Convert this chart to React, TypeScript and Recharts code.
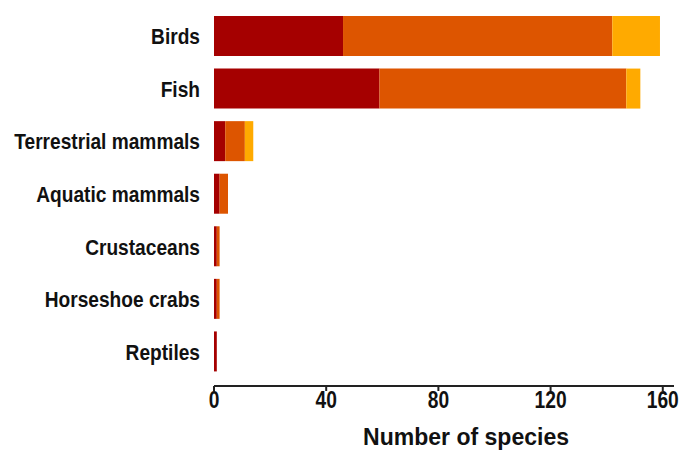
import { BarChart, Bar, XAxis, YAxis } from 'recharts';

const groups = [
  'Birds',
  'Fish',
  'Terrestrial mammals',
  'Aquatic mammals',
  'Crustaceans',
  'Horseshoe crabs',
  'Reptiles',
];
const darkRed = [46, 59, 4, 2, 1, 1, 1];
const orange = [96, 88, 7, 3, 1, 1, 0];
const yellow = [17, 5, 3, 0, 0, 0, 0];
const xTicks = [0, 40, 80, 120, 160];

const data = groups.map((name, i) => ({
  name,
  a: darkRed[i],
  b: orange[i],
  c: yellow[i],
}));

// narrow bold look: Arial metrics squeezed horizontally
const font = '"Liberation Sans", Arial, sans-serif';

const YTick = ({ x, y, payload }: any) => (
  <text
    transform={`translate(${x},${y}) scale(0.87,1)`}
    textAnchor="end"
    dy="0.36em"
    fontSize={22}
    fontWeight="bold"
    fontFamily={font}
    fill="#111"
  >
    {payload.value}
  </text>
);

const XTick = ({ x, y, payload }: any) => (
  <text
    transform={`translate(${x},${y}) scale(0.8,1)`}
    textAnchor="middle"
    dy="0.71em"
    fontSize={24}
    fontWeight="bold"
    fontFamily={font}
    fill="#111"
  >
    {payload.value}
  </text>
);

const XLabel = ({ viewBox }: any) => {
  const cx = viewBox.x + viewBox.width / 2 + 22;
  const by = viewBox.y + viewBox.height - 9;
  return (
    <text
      transform={`translate(${cx},${by}) scale(0.94,1)`}
      textAnchor="middle"
      fontSize={24.5}
      fontWeight="bold"
      fontFamily={font}
      fill="#111"
    >
      Number of species
    </text>
  );
};

export default function App() {
  return (
    <div style={{ position: 'absolute', left: 0, top: 0, background: '#fff' }}>
      <BarChart
        width={683}
        height={454}
        data={data}
        layout="vertical"
        margin={{ top: 10, right: 9, bottom: 0, left: 0 }}
        barSize={40}
      >
        <XAxis
          type="number"
          domain={[0, 164]}
          ticks={xTicks}
          height={68}
          tickSize={5}
          tickMargin={0}
          stroke="#222"
          strokeWidth={2}
          tick={<XTick />}
          label={<XLabel />}
        />
        <YAxis
          type="category"
          dataKey="name"
          width={214}
          axisLine={false}
          tickLine={false}
          tickSize={0}
          tickMargin={14}
          padding={{ top: 0, bottom: 8 }}
          tick={<YTick />}
        />
        <Bar dataKey="a" stackId="s" fill="#A50000" isAnimationActive={false} />
        <Bar dataKey="b" stackId="s" fill="#DD5500" isAnimationActive={false} />
        <Bar dataKey="c" stackId="s" fill="#FFAA00" isAnimationActive={false} />
      </BarChart>
    </div>
  );
}
